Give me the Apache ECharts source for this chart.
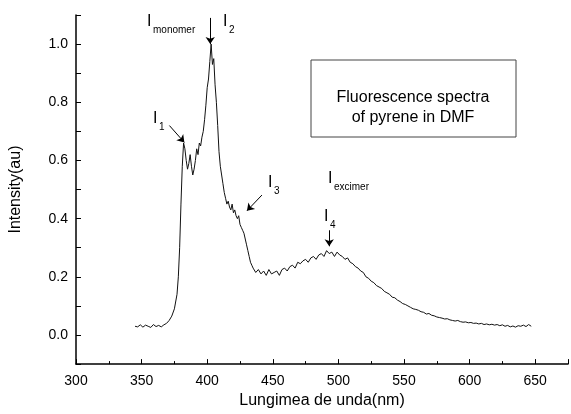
<!DOCTYPE html>
<html>
<head>
<meta charset="utf-8">
<script src="https://cdn.jsdelivr.net/npm/echarts@6/dist/echarts.min.js"></script>
<style>html,body{margin:0;padding:0;background:#fff}#main{width:571px;height:414px}</style>
</head>
<body>
<div id="main"></div>
<script>
// wavelength (nm) and intensity (au)
var wavelength = [345,347,349,351,353,355,357,359,361,363,365,367,369,371,373,375,377,378,379,380,381,382,383,384,385,386,387,388,389,390,391,392,393,394,395,396,397,398,399,400,401,402,403,404,405,406,407,408,409,410,411,412,413,414,415,416,417,418,419,420,421,422,423,424,425,426,427,428,429,430,431,432,433,434,435,437,439,441,443,445,447,449,451,453,455,457,459,461,463,465,467,469,471,473,475,477,479,481,483,485,487,489,491,493,495,497,499,501,503,505,507,509,511,513,515,517,519,521,523,525,527,529,531,533,535,537,539,541,543,545,547,549,551,553,555,557,559,561,563,565,567,569,571,573,575,577,579,581,583,585,587,589,591,593,595,597,599,601,603,605,607,609,611,613,615,617,619,621,623,625,627,629,631,633,635,637,639,641,643,645,647,649];
var intensity = [0.03,0.028,0.035,0.027,0.034,0.03,0.026,0.036,0.029,0.033,0.028,0.035,0.04,0.05,0.065,0.09,0.14,0.2,0.3,0.45,0.58,0.66,0.64,0.6,0.57,0.59,0.62,0.58,0.55,0.57,0.6,0.64,0.62,0.66,0.65,0.68,0.7,0.74,0.79,0.85,0.88,0.94,1.0,0.93,0.95,0.86,0.8,0.72,0.63,0.58,0.55,0.52,0.49,0.47,0.45,0.46,0.44,0.43,0.45,0.42,0.43,0.41,0.4,0.41,0.38,0.37,0.36,0.35,0.33,0.31,0.29,0.27,0.25,0.24,0.23,0.215,0.225,0.21,0.22,0.205,0.225,0.21,0.215,0.22,0.205,0.225,0.23,0.22,0.235,0.24,0.23,0.25,0.245,0.255,0.26,0.25,0.265,0.27,0.26,0.275,0.28,0.27,0.29,0.28,0.285,0.27,0.285,0.275,0.27,0.26,0.265,0.25,0.245,0.235,0.23,0.22,0.215,0.2,0.195,0.185,0.18,0.17,0.165,0.16,0.15,0.145,0.14,0.13,0.128,0.12,0.115,0.108,0.105,0.1,0.095,0.09,0.088,0.085,0.08,0.078,0.072,0.074,0.068,0.066,0.062,0.06,0.058,0.055,0.056,0.052,0.05,0.048,0.05,0.046,0.044,0.045,0.042,0.043,0.04,0.041,0.038,0.04,0.036,0.038,0.035,0.037,0.034,0.036,0.032,0.035,0.03,0.033,0.028,0.031,0.027,0.032,0.03,0.034,0.029,0.036,0.03];
var xTicks = [300,350,400,450,500,550,600,650];
var yTicks = [0.0,0.2,0.4,0.6,0.8,1.0];

var points = wavelength.map(function (w, i) { return [w, intensity[i]]; });
var font = 'Liberation Sans, Arial, sans-serif';

var myChart = echarts.init(document.getElementById('main'));

function arrow(a, b) {
	return [{ coord: a, symbol: 'none' }, { coord: b, symbol: 'arrow' }];
}
function label(x, y, sub) {
	return [
		{ type: 'text', x: x, y: y, style: { text: 'I', font: '16px ' + font, fill: '#000' } },
		{ type: 'text', x: x + 6, y: y + 11, style: { text: sub, font: '10px ' + font, fill: '#000' } }
	];
}

var option = {
	animation: false,
	grid: { left: 76, right: 0, top: 15, bottom: 47 },
	xAxis: {
		type: 'value', min: 300, max: 675, interval: 50,
		name: 'Lungimea de unda(nm)', nameLocation: 'middle', nameGap: 27,
		nameTextStyle: { fontFamily: font, fontSize: 16, color: '#000' },
		axisLine: { onZero: false, lineStyle: { color: '#000', width: 1.5 } },
		axisTick: { inside: true, length: 5, lineStyle: { color: '#000' } },
		minorTick: { show: true, splitNumber: 2, length: 3, lineStyle: { color: '#000' } },
		axisLabel: { fontFamily: font, fontSize: 14, color: '#000', margin: 10,
			formatter: function (v) { return xTicks.indexOf(v) >= 0 ? v : ''; } },
		splitLine: { show: false }
	},
	yAxis: {
		type: 'value', min: -0.1, max: 1.1, interval: 0.1,
		name: 'Intensity(au)', nameLocation: 'middle', nameGap: 52,
		nameTextStyle: { fontFamily: font, fontSize: 16, color: '#000' },
		axisLine: { lineStyle: { color: '#000', width: 1.5 } },
		axisTick: { inside: true, length: 5, lineStyle: { color: '#000' } },
		axisLabel: { fontFamily: font, fontSize: 14, color: '#000',
			formatter: function (v) {
				var r = Math.round(v * 10) / 10;
				return yTicks.indexOf(r) >= 0 ? r.toFixed(1) : '';
			} },
		splitLine: { show: false }
	},
	series: [{
		type: 'line', data: points, showSymbol: false,
		lineStyle: { color: '#111', width: 1 },
		markLine: {
			silent: true, symbolSize: 7, label: { show: false },
			lineStyle: { color: '#000', width: 1, type: 'solid' },
			data: [
				arrow([402.3, 1.09], [402.3, 1.0]),
				arrow([371.2, 0.72], [382.6, 0.662]),
				arrow([441.7, 0.481], [430.3, 0.427]),
				arrow([493, 0.36], [493, 0.305])
			]
		}
	}],
	graphic: [].concat(
		label(147, 14, 'monomer'),
		label(223, 14, '2'),
		label(153, 111, '1'),
		label(268, 175, '3'),
		label(328, 171, 'excimer'),
		label(324, 209, '4'),
		[
			{ type: 'rect', shape: { x: 311, y: 60, width: 205, height: 77 },
				style: { fill: '#fff', stroke: '#444', lineWidth: 1 } },
			{ type: 'text', x: 413, y: 88,
				style: { text: 'Fluorescence spectra\nof pyrene in DMF', font: '16px ' + font, fill: '#000', align: 'center', textAlign: 'center', lineHeight: 20 } }
		]
	)
};

myChart.setOption(option);
</script>
</body>
</html>
